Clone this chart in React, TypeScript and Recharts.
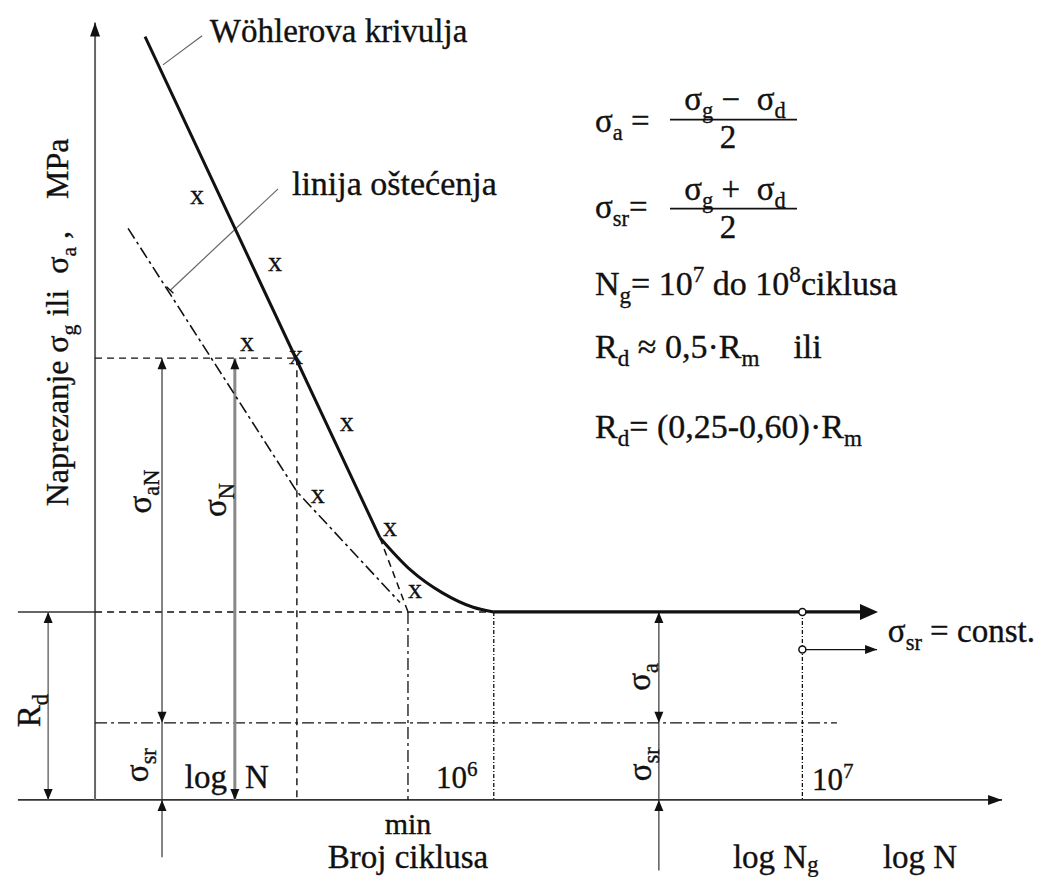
import React from 'react'
import { ComposedChart, XAxis, YAxis, Line, Scatter, ReferenceDot } from 'recharts'

const W = 1040
const H = 877
const FONT = '"Liberation Serif", "Times New Roman", serif'
const INK = '#111'
const GREY = '#666'

// x = log N, y = naprezanje [MPa]
const X_DOMAIN = [4.4, 7.77]
const Y_DOMAIN = [-82, 851]

const RD = 200
const SIGMA_SR = 82
const SIGMA_N = 470
const SR_CONST = 160
const AXIS_X = 4.708
const LOG_N = 5.362
const LOG_MIN = 5.722
const LOG_1E6 = 6
const LOG_NG = 7

const wohlerSteep = [{ x: 4.87, y: 812 }, { x: 5.631, y: 279 }]
const wohlerKnee = [
  { x: 5.631, y: 279 }, { x: 5.729, y: 245 }, { x: 5.835, y: 220 },
  { x: 5.933, y: 205 }, { x: 6.0, y: 200 },
]
const wohlerFlat = [{ x: 6.0, y: RD }, { x: 7.2, y: RD }]
const wohlerExt = [{ x: 5.631, y: 279 }, { x: LOG_MIN, y: RD }]
const damageLine = [{ x: 4.815, y: 608 }, { x: 5.362, y: 328 }, { x: 5.696, y: 210 }]
const testPoints = [
  { x: 5.038, y: 640 }, { x: 5.291, y: 569 }, { x: 5.2, y: 484 }, { x: 5.359, y: 470 },
  { x: 5.524, y: 399 }, { x: 5.43, y: 322 }, { x: 5.664, y: 287 }, { x: 5.745, y: 221 },
]

const xAxisLine = [{ x: 4.458, y: 0 }, { x: 7.647, y: 0 }]
const yAxisLine = [{ x: AXIS_X, y: 0 }, { x: AXIS_X, y: 827 }]
const rdSolid = [{ x: 4.458, y: RD }, { x: AXIS_X, y: RD }]
const rdDashed = [{ x: AXIS_X, y: RD }, { x: LOG_1E6, y: RD }]
const sigmaNDashed = [{ x: AXIS_X, y: SIGMA_N }, { x: LOG_N, y: SIGMA_N }]
const logNDashed = [{ x: LOG_N, y: SIGMA_N }, { x: LOG_N, y: 0 }]
const srDashDot = [{ x: AXIS_X, y: SIGMA_SR }, { x: 7.112, y: SIGMA_SR }]
const minDashDot = [{ x: LOG_MIN, y: RD }, { x: LOG_MIN, y: 0 }]
const e6Dotted = [{ x: LOG_1E6, y: RD }, { x: LOG_1E6, y: 0 }]
const ngDotted = [{ x: LOG_NG, y: RD }, { x: LOG_NG, y: 0 }]
const rdDim = [{ x: 4.556, y: RD }, { x: 4.556, y: 0 }]
const aNDim = [{ x: 4.925, y: SIGMA_N }, { x: 4.925, y: -61 }]
const nDim = [{ x: 5.161, y: SIGMA_N }, { x: 5.161, y: 0 }]
const aDim = [{ x: 6.535, y: RD }, { x: 6.535, y: -75 }]
const srConstArrow = [{ x: LOG_NG, y: SR_CONST }, { x: 7.242, y: SR_CONST }]
const wohlerLeader = [{ x: 4.928, y: 782 }, { x: 5.055, y: 813 }]
const damageLeader = [{ x: 4.951, y: 542 }, { x: 5.301, y: 650 }]
const damageTick = [{ x: 4.94, y: 546 }, { x: 4.962, y: 539 }]

const tipsUp = [
  { x: 4.556, y: RD }, { x: 4.925, y: SIGMA_N }, { x: 5.161, y: SIGMA_N },
  { x: 4.925, y: 0 }, { x: 6.535, y: RD }, { x: 6.535, y: 0 },
]
const tipsDown = [{ x: 4.556, y: 0 }, { x: 4.925, y: SIGMA_SR }, { x: 5.161, y: 0 }, { x: 6.535, y: SIGMA_SR }]
const tipsRightSmall = [{ x: 7.242, y: SR_CONST }]
const tipsRightBig = [{ x: 7.245, y: RD }]
const axisTipX = [{ x: 7.647, y: 0 }]
const axisTipY = [{ x: AXIS_X, y: 827 }]
const openCircles = [{ x: LOG_NG, y: RD }, { x: LOG_NG, y: SR_CONST }]

type Seg = [string, ('sub' | 'sup')?]

function rich(segs: Seg[], size: number, subDrop = 0.25) {
  let shift = 0
  return segs.map(([t, kind], i) => {
    const target = kind === 'sub' ? size * subDrop : kind === 'sup' ? -size * 0.38 : 0
    const dy = target - shift
    shift = target
    return (
      <tspan key={i} dy={dy} fontSize={kind ? size * 0.68 : size}>{t}</tspan>
    )
  })
}

function txt(x: number, y: number, segs: Seg[], size = 33, anchor = 'start', rotate = false, subDrop = 0.25) {
  return (
    <text
      x={x}
      y={y}
      transform={rotate ? `rotate(-90 ${x} ${y})` : undefined}
      textAnchor={anchor}
      fontFamily={FONT}
      fontSize={size}
      fill={INK}
      stroke={INK}
      strokeWidth={0.35}
      style={{ whiteSpace: 'pre' }}
    >
      {rich(segs, size, subDrop)}
    </text>
  )
}

// annotation placed at a data point
function note(key: string, x: number, y: number, body: React.ReactNode) {
  return (
    <ReferenceDot
      key={key}
      x={x}
      y={y}
      r={0}
      ifOverflow="visible"
      shape={(p: any) => <g transform={`translate(${p.cx},${p.cy})`}>{body}</g>}
    />
  )
}

const head = (dir: 'up' | 'down' | 'right', len: number, half: number) => (p: any) => {
  const { cx, cy } = p
  const pts =
    dir === 'up'
      ? [[cx, cy], [cx - half, cy + len], [cx + half, cy + len]]
      : dir === 'down'
      ? [[cx, cy], [cx - half, cy - len], [cx + half, cy - len]]
      : [[cx, cy], [cx - len, cy - half], [cx - len, cy + half]]
  return <polygon points={pts.map((q) => q.join(',')).join(' ')} fill={INK} />
}

const xMark = (p: any) => (
  <text x={p.cx} y={p.cy + 6} textAnchor="middle" fontFamily={FONT} fontSize={28} fill={INK} stroke={INK} strokeWidth={0.3}>
    x
  </text>
)

const ring = (p: any) => <circle cx={p.cx} cy={p.cy} r={3.5} fill="#fff" stroke={INK} strokeWidth={1.5} />

const DASH = '7 5'
const DASH_DOT = '12 4 3 4'
const DOTTED = '4 2 1 2'

function seg(key: string, data: { x: number; y: number }[], stroke: string, width: number, dash?: string, type: any = 'linear') {
  return (
    <Line
      key={key}
      data={data}
      dataKey="y"
      type={type}
      stroke={stroke}
      strokeWidth={width}
      strokeDasharray={dash}
      dot={false}
      activeDot={false}
      legendType="none"
      isAnimationActive={false}
    />
  )
}

export default function App() {
  return (
    <div style={{ position: 'absolute', left: 0, top: 0, width: W, height: H, background: '#fff' }}>
      <ComposedChart width={W} height={H} margin={{ top: 0, right: 0, bottom: 0, left: 0 }}>
        <XAxis type="number" dataKey="x" domain={X_DOMAIN} allowDataOverflow hide />
        <YAxis type="number" dataKey="y" domain={Y_DOMAIN} allowDataOverflow hide />

        {seg('xAxis', xAxisLine, '#333', 1.6)}
        {seg('yAxis', yAxisLine, GREY, 2)}
        {seg('rdSolid', rdSolid, '#333', 1.4)}
        {seg('rdDashed', rdDashed, INK, 1.4, DASH)}
        {seg('sigmaN', sigmaNDashed, INK, 1.4, DASH)}
        {seg('logN', logNDashed, INK, 1.4, DASH)}
        {seg('sr', srDashDot, INK, 1.3, DASH_DOT)}
        {seg('min', minDashDot, INK, 1.3, DASH_DOT)}
        {seg('e6', e6Dotted, INK, 1.3, DOTTED)}
        {seg('ng', ngDotted, INK, 1.3, DOTTED)}
        {seg('rdDim', rdDim, GREY, 1.4)}
        {seg('aNDim', aNDim, '#333', 1.2)}
        {seg('nDim', nDim, '#888', 3)}
        {seg('aDim', aDim, '#333', 1.2)}
        {seg('srConst', srConstArrow, INK, 1.3)}
        {seg('wLeader', wohlerLeader, GREY, 1.2)}
        {seg('dLeader', damageLeader, GREY, 1.2)}
        {seg('dTick', damageTick, INK, 1.3)}
        {seg('damage', damageLine, INK, 1.6, DASH_DOT)}
        {seg('ext', wohlerExt, INK, 1.5, DASH)}
        {seg('steep', wohlerSteep, INK, 3)}
        {seg('knee', wohlerKnee, INK, 3, undefined, 'monotone')}
        {seg('flat', wohlerFlat, INK, 3.2)}

        <Scatter data={tipsUp} dataKey="y" shape={head('up', 11, 4.5)} legendType="none" isAnimationActive={false} />
        <Scatter data={tipsDown} dataKey="y" shape={head('down', 11, 4.5)} legendType="none" isAnimationActive={false} />
        <Scatter data={tipsRightSmall} dataKey="y" shape={head('right', 12, 4.5)} legendType="none" isAnimationActive={false} />
        <Scatter data={tipsRightBig} dataKey="y" shape={head('right', 18, 8)} legendType="none" isAnimationActive={false} />
        <Scatter data={axisTipX} dataKey="y" shape={head('right', 14, 5)} legendType="none" isAnimationActive={false} />
        <Scatter data={axisTipY} dataKey="y" shape={head('up', 14, 5)} legendType="none" isAnimationActive={false} />
        <Scatter data={openCircles} dataKey="y" shape={ring} legendType="none" isAnimationActive={false} />
        <Scatter data={testPoints} dataKey="y" shape={xMark} legendType="none" isAnimationActive={false} />

        {note('wohler', 5.08, 806, txt(0, 0, [['Wöhlerova krivulja']]))}
        {note('damage', 5.346, 644, txt(0, 0, [['linija oštećenja']], 34))}
        {note('ylabel', 4.62, 508, txt(0, 0, [['Naprezanje σ'], ['g', 'sub'], [' ili  σ'], ['a', 'sub'], [' ,    MPa']], 32, 'middle', true))}
        {note('saN', 4.889, 328, txt(0, 0, [['σ'], ['aN', 'sub']], 33, 'middle', true))}
        {note('sN', 5.132, 319, txt(0, 0, [['σ'], ['N', 'sub']], 33, 'middle', true))}
        {note('rd', 4.53, 95, txt(0, 0, [['R'], ['d', 'sub']], 33, 'middle', true))}
        {note('srL', 4.88, 37, txt(0, 0, [['σ'], ['sr', 'sub']], 33, 'middle', true))}
        {note('sa', 6.506, 131, txt(0, 0, [['σ'], ['a', 'sub']], 33, 'middle', true))}
        {note('srR', 6.51, 38, txt(0, 0, [['σ'], ['sr', 'sub']], 33, 'middle', true))}
        {note('log', 4.999, 13, txt(0, 0, [['log']]))}
        {note('logN', 5.194, 13, txt(0, 0, [['N']]))}
        {note('e6', 5.813, 13, txt(0, 0, [['10'], ['6', 'sup']], 31))}
        {note('e7', 7.031, 11, txt(0, 0, [['10'], ['7', 'sup']], 31))}
        {note('min', LOG_MIN, -36, txt(0, 0, [['min']], 30, 'middle'))}
        {note('broj', LOG_MIN, -72, txt(0, 0, [['Broj ciklusa']], 33, 'middle'))}
        {note('logNg', 6.775, -72, txt(0, 0, [['log N'], ['g', 'sub']], 33, 'start', false, 0.12))}
        {note('logNx', 7.261, -72, txt(0, 0, [['log N']]))}
        {note('srConst', 7.277, 168, txt(0, 0, [['σ'], ['sr', 'sub'], [' = const.']]))}

        {note(
          'eqs',
          6.328,
          711,
          <g>
            {txt(0, 0, [['σ'], ['a', 'sub'], [' =']])}
            {txt(140, -22, [['σ'], ['g', 'sub'], [' −  σ'], ['d', 'sub']], 33, 'middle')}
            <line x1={75} x2={202} y1={-12} y2={-12} stroke={INK} strokeWidth={1.8} />
            {txt(133, 16, [['2']], 33, 'middle')}

            {txt(0, 86, [['σ'], ['sr', 'sub'], ['=']])}
            {txt(140, 68, [['σ'], ['g', 'sub'], [' +  σ'], ['d', 'sub']], 33, 'middle')}
            <line x1={75} x2={202} y1={77} y2={77} stroke={INK} strokeWidth={1.8} />
            {txt(133, 106, [['2']], 33, 'middle')}

            {txt(0, 163, [['N'], ['g', 'sub'], ['= 10'], ['7', 'sup'], [' do 10'], ['8', 'sup'], ['ciklusa']], 34)}
            {txt(0, 226, [['R'], ['d', 'sub'], [' ≈ 0,5·R'], ['m', 'sub'], ['    ili']], 34)}
            {txt(0, 306, [['R'], ['d', 'sub'], ['= (0,25-0,60)·R'], ['m', 'sub']], 34)}
          </g>
        )}
      </ComposedChart>
    </div>
  )
}
